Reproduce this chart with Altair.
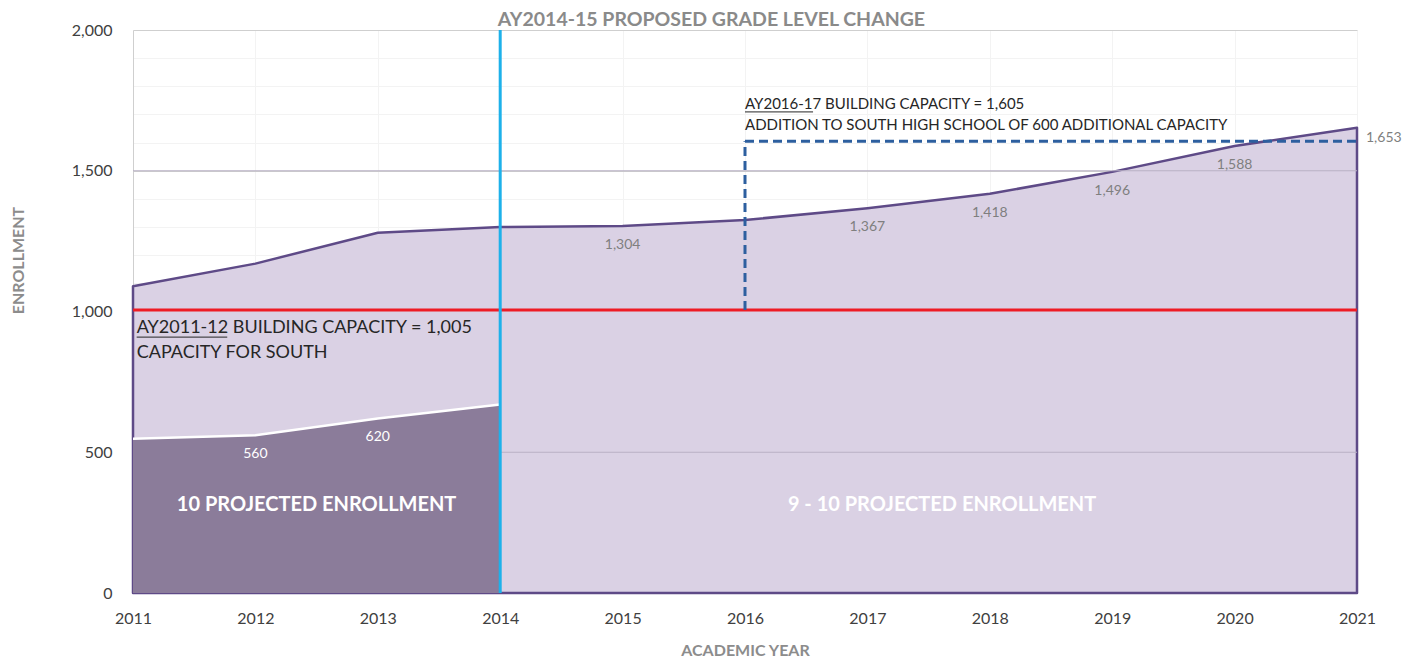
import altair as alt
import pandas as pd

# ---- data ----
years = [2011, 2012, 2013, 2014, 2015, 2016, 2017, 2018, 2019, 2020, 2021]
total_enrollment = [1090, 1170, 1280, 1300, 1304, 1325, 1367, 1418, 1496, 1588, 1653]

g10_years = [2011, 2012, 2013, 2014]
g10_enrollment = [548, 560, 620, 670]

label_years = [2015, 2017, 2018, 2019, 2020]
g10_label_years = [2012, 2013]

capacity_2011 = 1005
capacity_2016 = 1605
capacity_year = 2016
change_year = 2014
x_min, x_max = 2011, 2021
y_min, y_max = 0, 2000
major_grid = [500, 1500]

FONT = "Lato"
PURPLE = "#5e4a87"
LIGHT = "#dad1e4"
DARK = "#8b7c9a"

total_df = pd.DataFrame({"year": years, "value": total_enrollment})
g10_df = pd.DataFrame({"year": g10_years, "value": g10_enrollment})
lab_df = total_df[total_df["year"].isin(label_years)]
last_df = total_df[total_df["year"] == x_max]
g10_lab_df = g10_df[g10_df["year"].isin(g10_label_years)]

xs = alt.Scale(domain=[x_min, x_max], nice=False, zero=False)
ys = alt.Scale(domain=[y_min, y_max], nice=False)

x_ticks = [x_min + 0.5 * i for i in range(int((x_max - x_min) * 2) + 1)]
y_ticks = list(range(y_min, y_max + 1, 100))

x_axis = alt.Axis(
    values=x_ticks,
    labelExpr="datum.value % 1 === 0 ? datum.value : ''",
    format="d",
    grid=True,
    gridColor="#f3f3f3",
    ticks=False,
    domain=False,
    labelFont=FONT,
    labelFontSize=16,
    labelColor="#404040",
    labelPadding=17,
    labelFlush=False,
    title="ACADEMIC YEAR",
    titleFont=FONT,
    titleFontSize=16,
    titleFontWeight="bold",
    titleColor="#8c8c8c",
    titleBaseline="middle",
    titleY=57,
)
y_axis = alt.Axis(
    values=y_ticks,
    labelExpr="datum.value % 500 === 0 ? format(datum.value, ',') : ''",
    grid=True,
    gridColor={"condition": {"test": "datum.value % 500 === 0", "value": "#cfcfcf"}, "value": "#f3f3f3"},
    ticks=False,
    domain=True,
    domainColor="#cfcfcf",
    labelFont=FONT,
    labelFontSize=16,
    labelColor="#404040",
    labelPadding=21,
    title="ENROLLMENT",
    titleFont=FONT,
    titleFontSize=16,
    titleFontWeight="bold",
    titleColor="#8c8c8c",
    titleBaseline="middle",
    titleX=-115,
    titleY=230,
)


def X(field="year"):
    return alt.X(f"{field}:Q", scale=xs, axis=x_axis)


def Y(field="value"):
    return alt.Y(f"{field}:Q", scale=ys, axis=y_axis)


light_area = alt.Chart(total_df).mark_area(
    color=LIGHT, stroke=PURPLE, strokeWidth=2.5, strokeJoin="round"
).encode(x=X(), y=Y())

grid_over = alt.Chart(pd.DataFrame({"v": major_grid})).mark_rule(
    color="#b9b0c4", strokeWidth=1
).encode(y=Y("v"))

dark_area = alt.Chart(g10_df).mark_area(color=DARK).encode(x=X(), y=Y())
white_line = alt.Chart(g10_df).mark_line(color="white", strokeWidth=2.5).encode(x=X(), y=Y())

red_line = alt.Chart(pd.DataFrame({"v": [capacity_2011], "a": [x_min], "b": [x_max]})).mark_rule(
    color="#ee1c25", strokeWidth=3
).encode(y=Y("v"), x=X("a"), x2="b:Q")

cyan_line = alt.Chart(pd.DataFrame({"x": [change_year], "a": [y_min], "b": [y_max]})).mark_rule(
    color="#1db1ea", strokeWidth=3
).encode(x=X("x"), y=Y("a"), y2="b:Q")

dash_v = alt.Chart(pd.DataFrame({"x": [capacity_year], "a": [capacity_2011], "b": [capacity_2016]})).mark_rule(
    color="#2d5f9f", strokeWidth=3, strokeDash=[9, 5]
).encode(x=X("x"), y=Y("a"), y2="b:Q")

dash_h = alt.Chart(pd.DataFrame({"v": [capacity_2016], "a": [capacity_year], "b": [x_max]})).mark_rule(
    color="#2d5f9f", strokeWidth=3, strokeDash=[9, 5]
).encode(y=Y("v"), x=X("a"), x2="b:Q")

val_labels = alt.Chart(lab_df).mark_text(
    font=FONT, fontSize=14, color="#7f7f7f", dy=19
).encode(x=X(), y=Y(), text=alt.Text("value:Q", format=","))

last_label = alt.Chart(last_df).mark_text(
    font=FONT, fontSize=14, color="#7f7f7f", align="left", dx=9, dy=10
).encode(x=X(), y=Y(), text=alt.Text("value:Q", format=","))

g10_labels = alt.Chart(g10_lab_df).mark_text(
    font=FONT, fontSize=14, color="white", dy=19
).encode(x=X(), y=Y(), text=alt.Text("value:Q", format=","))


def note(x, y, text, size, color="#262626", weight="normal"):
    d = pd.DataFrame({"x": [x], "y": [y], "t": [text]})
    return alt.Chart(d).mark_text(
        font=FONT, align="left", baseline="middle", fontSize=size, color=color, fontWeight=weight
    ).encode(x=X("x"), y=Y("y"), text="t:N")


notes = [
    note(change_year - 0.02, 2036, "AY2014-15 PROPOSED GRADE LEVEL CHANGE", 19.5, "#8a8a8a", "bold"),
    note(capacity_year, 1737, "AY2016-17 BUILDING CAPACITY = 1,605", 15),
    note(capacity_year, 1662, "ADDITION TO SOUTH HIGH SCHOOL OF 600 ADDITIONAL CAPACITY", 15),
    note(x_min + 0.03, 941, "AY2011-12 BUILDING CAPACITY = 1,005", 18),
    note(x_min + 0.03, 853, "CAPACITY FOR SOUTH", 18),
]

underlines = pd.DataFrame({
    "a": [capacity_year, x_min + 0.03],
    "b": [capacity_year + 0.556, x_min + 0.77],
    "y": [1709, 909],
})
underline = alt.Chart(underlines).mark_rule(color="#262626", strokeWidth=1).encode(
    x=X("a"), x2="b:Q", y=Y("y")
)

region_labels = pd.DataFrame({
    "x": [(x_min + change_year) / 2, (change_year + x_max) / 2 + 0.11],
    "y": [313, 313],
    "t": ["10 PROJECTED ENROLLMENT", "9 - 10 PROJECTED ENROLLMENT"],
})
region_text = alt.Chart(region_labels).mark_text(
    font=FONT, fontSize=20, fontWeight="bold", color="white", baseline="middle"
).encode(x=X("x"), y=Y("y"), text="t:N")

chart = alt.layer(
    light_area, grid_over, dark_area, white_line, red_line, dash_v, dash_h,
    cyan_line, val_labels, last_label, g10_labels, *notes, underline, region_text
).properties(
    width=1224, height=563,
    autosize=alt.AutoSizeParams(type="none"),
    padding={"left": 125, "top": 22, "right": 59, "bottom": 66},
).configure_view(stroke=None)

chart.save("out.html", embed_options={"renderer": "svg", "actions": False})
